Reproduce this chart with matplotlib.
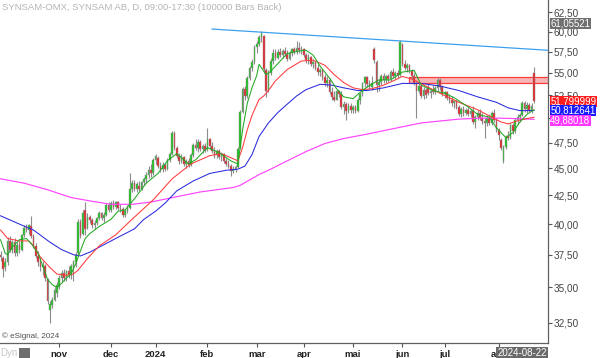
import numpy as np
import pandas as pd
import matplotlib
matplotlib.use("Agg")
import matplotlib.pyplot as plt
from matplotlib.patches import Rectangle
from matplotlib.ticker import NullLocator

plt.rcParams['font.family'] = ['Liberation Sans', 'DejaVu Sans']

# trading days (Stockholm), 2023-09-27 .. 2024-08-22
holidays = ['2023-12-25', '2023-12-26', '2024-01-01', '2024-03-29', '2024-04-01',
            '2024-05-01', '2024-05-09', '2024-06-06', '2024-06-21']
dates = pd.bdate_range('2023-09-27', '2024-08-22', freq='C', holidays=holidays)
month_names = ['nov', 'dec', '2024', 'feb', 'mar', 'apr', 'mai', 'jun', 'jul', 'aug']

# daily candles
opens = [37.5, 37.2, 36.5, 36.9, 38.6, 37.9, 38.5, 37.6, 38.3, 37.9,
         39.1, 39.7, 39.5, 39.8, 39.0, 38.2, 37.4, 36.9, 36.5, 36.6,
         35.6, 33.4, 33.7, 34.1, 34.6, 35.0, 35.7, 36.1, 35.7, 36.2,
         35.9, 36.5, 36.9, 37.6, 40.2, 39.2, 41.2, 39.7, 40.6, 40.3,
         39.9, 40.1, 40.5, 40.9, 40.5, 40.8, 41.6, 41.2, 41.8, 41.5,
         41.9, 41.4, 41.3, 40.8, 41.1, 41.4, 43.1, 43.6, 43.1, 43.3,
         43.1, 43.7, 44.0, 44.4, 44.8, 44.5, 45.8, 46.0, 45.2, 44.9,
         45.3, 44.9, 45.8, 46.4, 48.5, 47.0, 46.2, 45.7, 46.1, 45.4,
         45.7, 45.3, 46.3, 47.3, 47.0, 47.6, 46.9, 47.2, 46.8, 47.9,
         47.2, 46.7, 46.3, 46.7, 46.1, 46.4, 45.7, 45.4, 45.2, 44.7,
         44.9, 45.1, 47.0, 50.7, 53.2, 52.4, 54.4, 55.6, 56.3, 58.1,
         58.5, 59.3, 59.5, 55.3, 53.1, 55.0, 56.4, 57.4, 56.8, 57.5,
         57.1, 57.6, 57.3, 56.7, 57.4, 57.8, 57.5, 58.0, 57.7, 57.9,
         57.1, 56.5, 56.9, 56.1, 56.3, 55.6, 55.1, 55.3, 54.5, 53.8,
         54.2, 52.8, 52.3, 52.0, 52.9, 52.6, 51.2, 51.5, 50.8, 51.3,
         50.9, 51.2, 50.8, 52.0, 52.6, 53.8, 54.5, 53.7, 53.4, 57.9,
         56.3, 53.6, 54.0, 54.6, 54.2, 54.6, 54.3, 55.1, 54.7, 55.0,
         54.8, 58.4, 56.1, 55.6, 55.9, 55.2, 54.6, 53.9, 53.0, 53.5,
         52.4, 53.1, 53.3, 52.7, 53.0, 52.8, 53.3, 54.2, 53.4, 52.6,
         52.8, 52.2, 52.0, 51.6, 51.8, 51.2, 50.4, 51.0, 50.5, 50.9,
         50.4, 50.8, 49.6, 50.1, 50.6, 50.0, 49.7, 49.5, 50.0, 49.5,
         50.6, 49.8, 48.8, 47.8, 45.7, 47.1, 48.2, 48.0, 49.3, 48.7,
         49.8, 50.1, 50.3, 51.6, 51.0, 51.4, 50.8, 55.0]
highs = [37.8, 37.4, 37.2, 38.9, 39.0, 38.7, 38.8, 38.5, 38.6, 39.2,
         39.9, 40.0, 40.0, 40.7, 39.2, 38.4, 37.8, 37.3, 37.0, 36.8,
         35.7, 34.0, 34.3, 35.0, 35.4, 35.9, 36.3, 36.4, 36.3, 36.6,
         36.8, 37.1, 37.7, 40.4, 40.4, 41.2, 41.9, 40.9, 40.8, 40.5,
         40.3, 40.6, 41.1, 41.0, 41.0, 41.8, 41.9, 42.0, 42.1, 42.0,
         42.0, 41.7, 41.5, 41.3, 41.6, 44.5, 43.9, 43.9, 43.7, 43.8,
         43.8, 44.2, 44.6, 45.2, 45.4, 46.0, 46.4, 46.2, 45.6, 45.6,
         45.5, 46.0, 46.6, 48.7, 48.7, 47.2, 46.5, 46.4, 46.2, 45.9,
         46.0, 46.5, 47.5, 47.9, 47.9, 47.8, 47.4, 47.5, 49.0, 48.0,
         47.6, 47.1, 46.9, 46.9, 46.6, 46.5, 46.0, 45.8, 45.4, 45.2,
         45.3, 47.1, 50.9, 53.4, 53.5, 54.6, 55.8, 56.6, 58.3, 58.8,
         59.6, 60.1, 59.6, 55.6, 55.4, 56.8, 57.8, 57.9, 57.8, 58.0,
         57.9, 58.1, 57.7, 57.6, 58.0, 58.1, 58.8, 58.7, 58.2, 58.0,
         57.4, 57.2, 57.0, 56.6, 56.4, 56.0, 55.6, 55.4, 54.9, 54.6,
         54.4, 53.4, 52.9, 53.1, 53.1, 52.9, 51.8, 51.7, 51.6, 51.6,
         51.4, 51.4, 52.2, 52.8, 54.0, 54.7, 54.7, 54.2, 54.6, 58.1,
         56.5, 54.3, 54.9, 55.0, 54.8, 54.9, 55.3, 55.6, 55.2, 55.4,
         59.0, 58.6, 56.5, 56.2, 56.1, 55.5, 55.0, 54.2, 53.8, 53.7,
         53.4, 53.3, 53.8, 53.2, 53.6, 53.5, 54.5, 54.4, 53.6, 53.0,
         53.0, 52.6, 52.4, 52.0, 51.9, 51.4, 51.2, 51.3, 51.1, 51.2,
         51.0, 51.3, 50.3, 50.9, 51.0, 50.6, 50.0, 50.3, 50.4, 50.8,
         51.0, 50.0, 49.0, 48.0, 47.3, 48.3, 48.7, 49.5, 49.5, 50.0,
         50.4, 50.6, 51.8, 51.8, 51.7, 51.6, 51.6, 55.7]
lows = [37.0, 35.8, 36.2, 36.7, 37.7, 37.6, 37.4, 37.4, 37.6, 37.8,
        38.9, 39.3, 39.2, 38.8, 38.0, 37.2, 36.6, 36.2, 35.9, 35.5,
        33.8, 32.5, 33.5, 34.0, 34.3, 34.9, 35.4, 35.5, 35.5, 35.7,
        35.6, 35.5, 36.5, 37.5, 38.8, 39.1, 39.1, 39.6, 40.1, 39.7,
        39.6, 39.9, 40.3, 40.3, 40.2, 40.7, 41.0, 41.0, 41.3, 41.3,
        41.2, 41.0, 40.6, 40.6, 40.9, 41.3, 42.8, 42.9, 42.8, 42.9,
        43.0, 43.4, 43.6, 44.1, 44.2, 44.4, 45.4, 45.0, 44.6, 44.6,
        44.7, 44.8, 45.6, 46.3, 46.8, 46.0, 45.4, 45.5, 45.2, 45.0,
        45.1, 45.2, 46.1, 46.8, 46.6, 46.7, 46.5, 46.6, 46.7, 46.9,
        46.5, 46.0, 46.0, 45.9, 45.7, 45.5, 45.2, 45.0, 44.3, 44.5,
        44.6, 45.0, 46.9, 50.5, 52.0, 52.2, 54.2, 55.2, 56.1, 57.4,
        58.2, 58.7, 55.0, 52.3, 52.8, 54.8, 56.0, 56.5, 56.6, 56.9,
        56.8, 57.0, 56.4, 56.5, 57.0, 57.2, 57.3, 57.4, 57.2, 56.9,
        56.2, 56.1, 55.8, 55.6, 55.3, 54.8, 54.6, 54.2, 53.5, 53.4,
        52.6, 52.0, 51.8, 51.9, 52.3, 51.0, 50.4, 49.8, 50.5, 50.6,
        50.6, 50.5, 50.7, 51.5, 52.4, 53.4, 53.4, 53.2, 53.1, 56.2,
        52.8, 52.9, 53.6, 53.9, 53.8, 54.0, 54.1, 54.4, 54.3, 54.4,
        54.7, 55.8, 55.3, 55.1, 55.0, 54.3, 53.6, 50.0, 52.7, 52.2,
        52.1, 52.2, 52.5, 52.2, 52.6, 52.6, 53.0, 53.1, 52.4, 52.2,
        52.0, 51.6, 51.3, 51.1, 51.0, 50.2, 50.1, 50.2, 50.3, 50.2,
        50.1, 49.4, 49.0, 49.8, 49.8, 49.4, 48.0, 49.2, 49.3, 49.3,
        49.6, 48.6, 47.8, 46.8, 45.5, 46.9, 47.8, 47.9, 48.4, 48.5,
        49.4, 49.6, 50.2, 50.7, 50.6, 50.7, 50.6, 51.6]
closes = [37.3, 36.4, 36.9, 38.6, 37.9, 38.5, 37.6, 38.3, 37.9, 39.1,
          39.7, 39.5, 39.9, 39.0, 38.2, 37.4, 36.9, 36.5, 36.7, 35.7,
          34.0, 33.8, 34.1, 34.8, 35.2, 35.7, 36.1, 35.7, 36.2, 35.9,
          36.6, 36.9, 37.5, 40.2, 39.0, 40.9, 39.6, 40.6, 40.3, 39.9,
          40.1, 40.5, 40.9, 40.5, 40.8, 41.6, 41.2, 41.8, 41.5, 41.9,
          41.4, 41.3, 40.8, 41.1, 41.4, 43.1, 43.6, 43.1, 43.5, 43.1,
          43.7, 44.0, 44.4, 44.8, 44.5, 45.8, 46.2, 45.2, 44.8, 45.3,
          44.9, 45.8, 46.4, 48.5, 47.0, 46.2, 45.7, 46.1, 45.4, 45.6,
          45.3, 46.3, 47.3, 47.0, 47.6, 46.9, 47.2, 46.8, 47.9, 47.2,
          46.7, 46.3, 46.7, 46.1, 46.4, 45.7, 45.4, 45.2, 44.7, 44.9,
          45.1, 46.9, 50.7, 53.2, 52.4, 54.4, 55.6, 56.3, 58.1, 58.5,
          59.3, 59.8, 55.5, 53.0, 55.0, 56.4, 57.4, 56.8, 57.5, 57.1,
          57.6, 57.3, 56.7, 57.4, 57.8, 57.5, 58.0, 57.7, 57.9, 57.1,
          56.5, 56.9, 56.1, 56.3, 55.6, 55.1, 55.3, 54.5, 53.8, 54.2,
          52.8, 52.3, 52.0, 52.9, 52.6, 51.2, 51.5, 50.8, 51.3, 50.9,
          51.2, 50.8, 52.0, 52.6, 53.8, 54.5, 53.7, 53.4, 53.9, 56.5,
          53.6, 54.0, 54.6, 54.2, 54.6, 54.3, 55.1, 54.7, 55.0, 54.8,
          58.7, 56.1, 55.6, 55.9, 55.2, 54.6, 53.9, 53.0, 53.5, 52.4,
          53.1, 52.5, 52.7, 53.0, 52.8, 53.3, 54.2, 53.4, 52.6, 52.8,
          52.2, 52.0, 51.6, 51.8, 51.2, 50.4, 51.0, 50.5, 50.9, 50.4,
          50.8, 49.6, 50.1, 50.6, 50.0, 49.7, 49.5, 50.0, 49.5, 50.6,
          49.8, 48.9, 48.3, 47.0, 47.1, 48.1, 48.0, 49.3, 48.7, 49.8,
          50.1, 50.3, 51.6, 51.0, 51.4, 50.9, 51.3, 51.8]

# moving averages (bar index, value)
green_bars = [0, 2, 3, 5, 8, 11, 13, 16, 18, 20, 22, 24, 26, 28, 30, 32, 34, 36, 38, 42,
              47, 50, 53, 57, 62, 67, 71, 75, 80, 83, 88, 93, 98, 101, 103, 105, 107, 109, 110, 113,
              115, 117, 122, 127, 130, 133, 136, 140, 143, 146, 150, 153, 156, 161, 166, 171, 176, 179, 184, 189,
              193, 199, 203, 208, 211, 215, 218, 221, 224, 227]
green_vals = [38.7, 37.6, 37.5, 38.1, 38.7, 38.8, 38.4, 37.6, 36.6, 35.6, 35.2, 35.0, 35.3, 35.7, 36.0, 36.8, 37.8, 38.8, 39.2, 39.8,
              40.4, 41.1, 41.2, 42.2, 43.6, 44.5, 45.7, 46.4, 45.4, 45.8, 47.0, 46.5, 45.7, 45.4, 48.8, 51.6, 53.3, 54.7, 56.0, 54.8,
              55.2, 55.8, 57.3, 57.6, 57.7, 57.1, 55.8, 54.4, 53.2, 52.3, 52.1, 52.8, 53.4, 54.2, 54.2, 55.1, 55.3, 53.6, 53.0, 52.7,
              52.2, 51.2, 50.4, 50.1, 49.0, 48.0, 48.5, 49.6, 50.4, 50.9]
red_bars = [0, 3, 8, 12, 14, 17, 21, 24, 28, 31, 33, 37, 42, 49, 57, 65, 73, 81, 89, 94,
            98, 101, 103, 105, 107, 110, 112, 114, 117, 122, 128, 133, 138, 142, 146, 150, 154, 158, 163, 168,
            171, 175, 181, 187, 195, 203, 209, 213, 216, 221, 227]
red_vals = [39.5, 38.8, 38.6, 38.6, 38.2, 37.3, 36.5, 36.0, 35.9, 36.0, 36.3, 37.2, 38.2, 39.1, 40.6, 42.1, 44.0, 45.4, 46.2, 46.4,
            46.0, 45.7, 47.0, 48.8, 50.3, 52.0, 52.4, 53.0, 54.1, 55.4, 56.4, 56.5, 55.9, 54.8, 53.9, 53.3, 53.1, 53.2, 53.6, 54.2,
            54.6, 54.3, 53.5, 52.7, 51.7, 50.9, 50.1, 49.6, 49.4, 49.8, 50.1]
blue_bars = [0, 8, 14, 21, 26, 31, 34, 38, 42, 49, 57, 61, 66, 70, 75, 82, 89, 96, 101, 104,
             107, 110, 114, 118, 122, 126, 130, 136, 141, 146, 152, 156, 163, 171, 179, 187, 195, 203, 211, 216,
             221, 227]
blue_vals = [40.7, 40.0, 39.5, 38.5, 37.9, 37.5, 37.4, 37.7, 38.1, 38.8, 39.6, 40.4, 41.1, 41.8, 42.9, 43.8, 44.5, 44.8, 44.9, 45.2,
             46.3, 48.1, 49.5, 50.6, 51.5, 52.4, 53.1, 53.7, 53.6, 53.3, 53.0, 53.0, 53.3, 53.8, 53.8, 53.5, 53.0, 52.3, 51.7, 51.1,
             50.8, 50.81]
mag_bars = [0, 10, 20, 30, 38, 47, 56, 64, 71, 78, 85, 92, 99, 102, 106, 110, 114, 122, 130, 138,
            146, 155, 163, 171, 179, 187, 195, 204, 212, 220, 227]
mag_vals = [44.0, 43.6, 43.0, 42.3, 42.0, 41.7, 41.7, 41.9, 42.2, 42.5, 42.8, 43.0, 43.2, 43.4, 43.9, 44.4, 44.8, 45.7, 46.6, 47.4,
            47.9, 48.3, 48.7, 49.1, 49.5, 49.7, 49.9, 50.0, 50.0, 49.95, 49.88]

# trendline and resistance zone
trend_bars = [90, 233]
trend_vals = [60.33, 57.69]
zone_start = 174
zone_low, zone_high = 53.9, 54.57

# right axis value boxes
tag_vals = [61.05521, 51.799999, 50.812641, 49.88018]
tag_text = ['61,05521', '51,799999', '50,812641', '49,88018']
tag_colors = ['#707070', '#ff1c1c', '#1a1aff', '#ff38ff']
yticks = [32.5, 35.0, 37.5, 40.0, 42.5, 45.0, 47.5, 50.0, 52.5, 55.0, 57.5, 60.0, 62.5]

fig = plt.figure(figsize=(6.0, 3.58), dpi=100)
ax = fig.add_axes([0.0, 15 / 358, 548 / 600, 343 / 358])

o = np.array(opens); h = np.array(highs); l = np.array(lows); c = np.array(closes)
x = np.arange(len(c))
up = c >= o

ax.vlines(x, l, h, color='#8c8c8c', lw=0.8, zorder=2)
ax.bar(x[up], (c - o)[up], bottom=o[up], width=0.72, color='#1fc41f',
       edgecolor='#8c8c8c', linewidth=0.3, zorder=3)
ax.bar(x[~up], (c - o)[~up], bottom=o[~up], width=0.72, color='#e8262a',
       edgecolor='#8c8c8c', linewidth=0.3, zorder=3)

ax.plot(mag_bars, mag_vals, color='#ff44ff', lw=0.85, zorder=4)
ax.plot(blue_bars, blue_vals, color='#2a2ae0', lw=0.75, zorder=4)
ax.plot(red_bars, red_vals, color='#ff3a3a', lw=0.75, zorder=4)
ax.plot(green_bars, green_vals, color='#22a822', lw=0.75, zorder=5)
ax.plot(trend_bars, trend_vals, color='#3aa0f0', lw=0.9, zorder=5)

ax.add_patch(Rectangle((zone_start, zone_low), 240 - zone_start, zone_high - zone_low,
                       facecolor='#f7a8a8', edgecolor='#ff2020', lw=0.9, alpha=0.85, zorder=1.5))

ax.set_yscale('log')
ax.set_xlim(-0.234, 232.96)
ax.set_ylim(31.13, 64.14)
ax.yaxis.set_minor_locator(NullLocator())
ax.yaxis.tick_right()
ax.set_yticks(yticks)
ax.set_yticklabels([f"{v:.2f}".replace('.', ',') for v in yticks])
ax.tick_params(axis='y', length=3, width=0.8, pad=1, labelsize=7.2,
               colors='#555555', labelcolor='#444444')

month_idx = [i for i in range(1, len(dates)) if dates[i].month != dates[i - 1].month][1:]
ax.set_xticks(month_idx)
ax.set_xticklabels(month_names, fontweight='bold')
ax.tick_params(axis='x', length=3, width=0.8, pad=2, labelsize=6.8,
               colors='#555555', labelcolor='#222222')

for s in ['top', 'left']:
    ax.spines[s].set_visible(False)
for s in ['right', 'bottom']:
    ax.spines[s].set_color('#606060')
    ax.spines[s].set_linewidth(0.9)

ax.text(0.004, 0.99, 'SYNSAM-OMX, SYNSAM AB, D, 09:00-17:30 (100000 Bars Back)',
        transform=ax.transAxes, ha='left', va='top', fontsize=6.8, color='#b4b4b4')
ax.text(0.003, 0.021, '\u00a9 eSignal, 2024', transform=ax.transAxes,
        ha='left', va='center', fontsize=5.8, color='#505050')

# value tags on the right axis (stacked, as in the eSignal layout)
tag_nudge = [0, 0, 0, -1.0]
for v, t, col, dy in zip(tag_vals, tag_text, tag_colors, tag_nudge):
    ax.annotate(t, (1.004, v), xycoords=ax.get_yaxis_transform(),
                xytext=(0, dy), textcoords='offset points', ha='left', va='center',
                fontsize=6.9, color='white', annotation_clip=False, zorder=10,
                bbox=dict(boxstyle='square,pad=0.06', fc=col, ec='none'))

fig.text(522 / 600, 1 - 353.5 / 358, dates[-1].strftime('%Y-%m-%d'), ha='center', va='center',
         fontsize=7, color='white', zorder=10,
         bbox=dict(boxstyle='square,pad=0.15', fc='#6a6a6a', ec='none'))
fig.text(0.0, 1 - 353 / 358, 'Dyn', ha='left', va='center', fontsize=7, color='#c8c8c8')
fig.patches.append(Rectangle((19 / 600, 1 - 358 / 358), 11 / 600, 10 / 358,
                             transform=fig.transFigure, fc='#6e6e6e', ec='none'))

fig.savefig('out.png', dpi=100, facecolor='white')
